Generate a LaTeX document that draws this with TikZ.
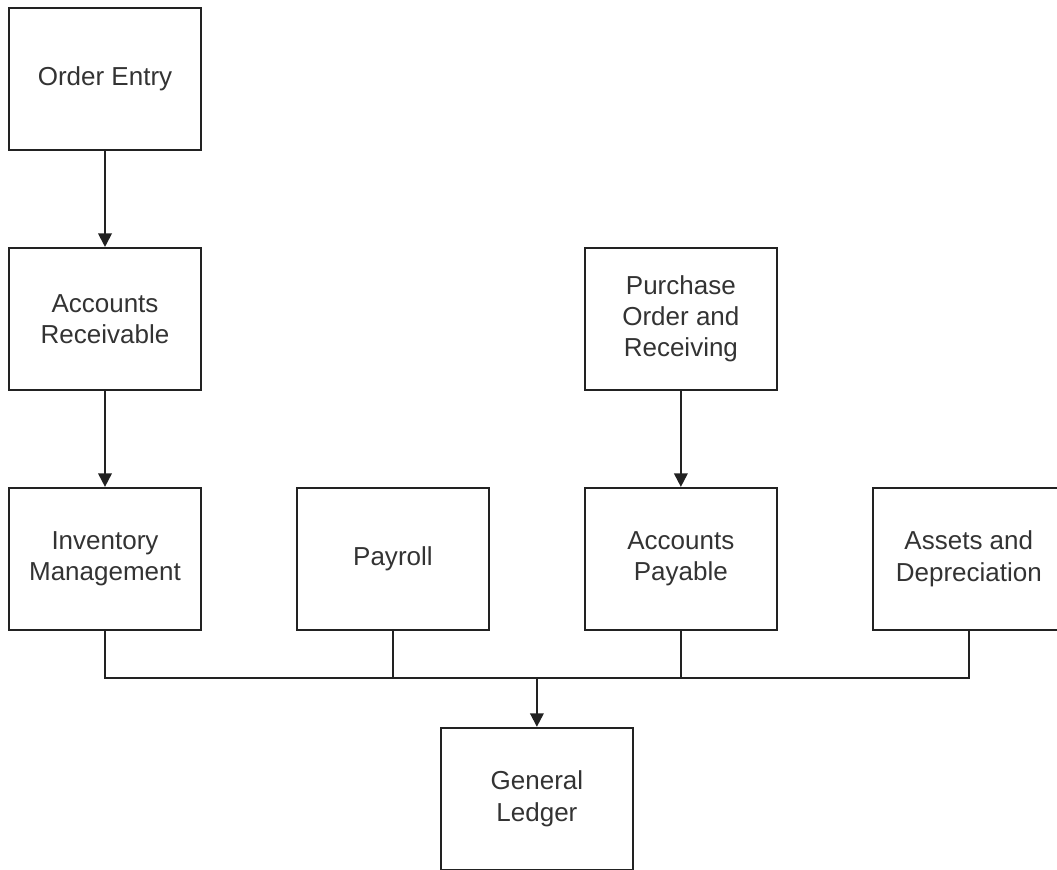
\documentclass[tikz,border=0pt]{standalone}
\usepackage{fontspec}
\setmainfont{Liberation Sans}
\usetikzlibrary{positioning}
\usetikzlibrary{calc}
\usetikzlibrary{arrows.meta}
\definecolor{linegray}{HTML}{222222}
\definecolor{textgray}{HTML}{333333}
\tikzset{
    module/.style = {rectangle,draw=linegray,line width=1.1pt,minimum width=3.84cm,minimum height=2.84cm,
        align=center,text=textgray,font=\fontsize{14.8}{17.8}\selectfont},
    flow/.style = {draw=linegray,line width=1.1pt},
    feed/.style = {flow,-{Triangle[length=0.27cm,width=0.27cm]}}}

\begin{document}
\begin{tikzpicture}[node distance=1.92cm and 1.88cm]
        \clip (0,0) rectangle (21.14,-17.38);
        \useasboundingbox (0,0) rectangle (21.14,-17.38);
        \node[module] (OE) at (2.10,-1.58) {Order Entry};
        \node[module,below=of OE] (AR) {Accounts\\Receivable};
        \node[module,below=of AR] (IM) {Inventory\\Management};
        \node[module,right=of IM] (PY) {Payroll};
        \node[module,right=of PY] (AP) {Accounts\\Payable};
        \node[module,right=of AP] (AD) {Assets and\\Depreciation};
        \node[module,above=of AP] (PO) {Purchase\\Order and\\Receiving};
        \coordinate (mid) at ($(PY.south)!0.5!(AP.south)$);
        \node[module,below=of mid,anchor=north] (GL) {General\\Ledger};
        \coordinate (bus) at ($(GL.north)+(0,0.98)$);
        \draw[feed] (OE) -- (AR);
        \draw[feed] (AR) -- (IM);
        \draw[feed] (PO) -- (AP);
        \draw[flow] (IM.south) |- (bus) -| (AD.south);
        \draw[flow] (PY.south) -- (PY.south |- bus);
        \draw[flow] (AP.south) -- (AP.south |- bus);
        \draw[feed] (bus) -- (GL);
\end{tikzpicture}
\end{document}
